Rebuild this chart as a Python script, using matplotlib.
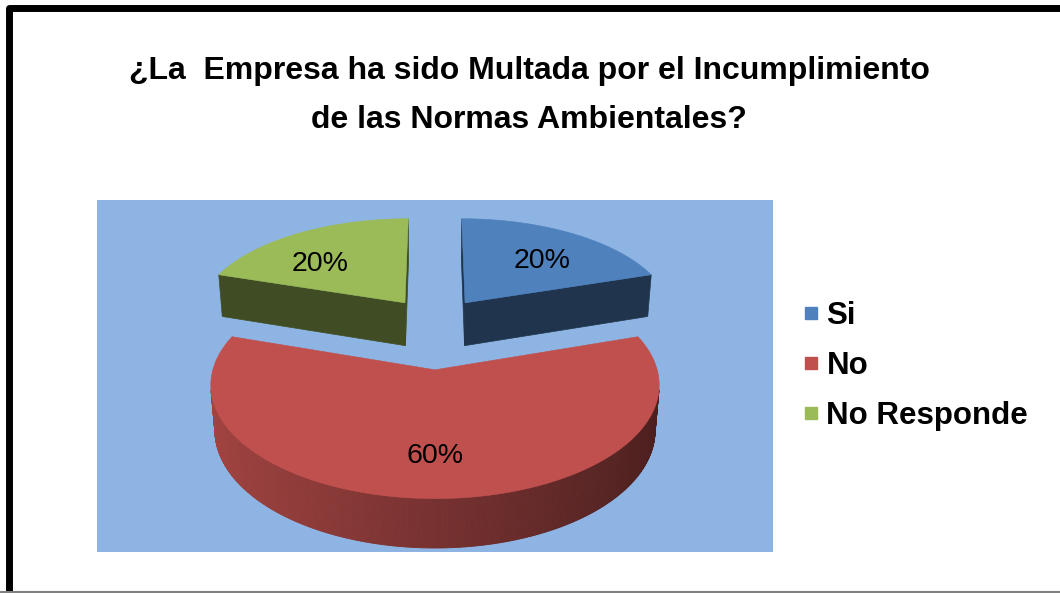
import numpy as np
import matplotlib
matplotlib.use("Agg")
import matplotlib.pyplot as plt
from matplotlib.patches import Polygon
from matplotlib.lines import Line2D
from matplotlib.colors import to_rgb

# ---------------- data ----------------
categories = ["Si", "No", "No Responde"]
values = [20, 60, 20]
colors = ["#4F81BD", "#C0504D", "#9BBB59"]
explode = [0.25, 0.45, 0.25]
title_lines = ["¿La  Empresa ha sido Multada por el Incumplimiento",
               "de las Normas Ambientales?"]

# ---------------- style / geometry ----------------
W, H, DPI = 1060, 593, 100
FONT = "Liberation Sans"
ELEV = np.radians(30.0)
FOCAL = 7.0
THICK = 0.24
SN, CS = np.sin(ELEV), np.cos(ELEV)
CAM = np.array([0.0, -FOCAL * CS, FOCAL * SN])
LABEL_R = [0.62, 0.70, 0.62]
LABEL_DA = [-5.0, 0.0, 10.0]
SCALE = 206.0


def project(x, y, z):
    yv = y * SN + z * CS
    d = y * CS - z * SN
    k = FOCAL / (FOCAL + d)
    return x * k, yv * k


def shade(c, f):
    r, g, b = to_rgb(c)
    return (r * f, g * f, b * f)


fig = plt.figure(figsize=(W / DPI, H / DPI), dpi=DPI)
fig.patch.set_facecolor("white")

ax = fig.add_axes([97 / W, 1 - 552 / H, 676 / W, 352 / H])
ax.set_facecolor("#8EB4E3")
ax.set_xlim(-338 / SCALE, 338 / SCALE)
ax.set_ylim(-186 / SCALE, 166 / SCALE)
ax.set_xticks([])
ax.set_yticks([])
for sp in ax.spines.values():
    sp.set_visible(False)

total = float(sum(values))
slices = []
start = 90.0
for i, v in enumerate(values):
    span = v / total * 360.0
    t_hi = start
    t_lo = start - span
    start = t_lo
    mid = np.radians((t_lo + t_hi) / 2)
    ox, oy = explode[i] * np.cos(mid), explode[i] * np.sin(mid)
    slices.append(dict(i=i, lo=np.radians(t_lo), hi=np.radians(t_hi),
                       mid=mid, ox=ox, oy=oy, span=span))

# far slices first
order = sorted(slices, key=lambda s: -s["oy"])


def visible(n, p):
    return np.dot(n, CAM - p) > 0


for s in order:
    i = s["i"]
    col = colors[i]
    ox, oy = s["ox"], s["oy"]
    n = max(int(s["span"] * 2), 24)
    ts = np.linspace(s["lo"], s["hi"], n)

    # radial faces
    for t, sign in ((s["lo"], 1), (s["hi"], -1)):
        nrm = np.array([sign * np.sin(t), -sign * np.cos(t), 0.0])
        p = np.array([ox + 0.5 * np.cos(t), oy + 0.5 * np.sin(t), THICK / 2])
        if visible(nrm, p):
            pts = [project(ox, oy, 0), project(ox, oy, THICK),
                   project(ox + np.cos(t), oy + np.sin(t), THICK),
                   project(ox + np.cos(t), oy + np.sin(t), 0)]
            fc = shade(col, 0.41)
            ax.add_patch(Polygon(pts, closed=True, facecolor=fc,
                                 edgecolor=fc, linewidth=0.5))

    # curved side
    for j in range(n - 1):
        ta, tb = ts[j], ts[j + 1]
        tm = 0.5 * (ta + tb)
        nrm = np.array([np.cos(tm), np.sin(tm), 0.0])
        p = np.array([ox + np.cos(tm), oy + np.sin(tm), THICK / 2])
        if not visible(nrm, p):
            continue
        pts = [project(ox + np.cos(ta), oy + np.sin(ta), 0),
               project(ox + np.cos(tb), oy + np.sin(tb), 0),
               project(ox + np.cos(tb), oy + np.sin(tb), THICK),
               project(ox + np.cos(ta), oy + np.sin(ta), THICK)]
        fc = shade(col, 0.62 - 0.23 * np.cos(tm))
        ax.add_patch(Polygon(pts, closed=True, facecolor=fc,
                             edgecolor=fc, linewidth=0.6))

    # top face
    pts = [project(ox, oy, THICK)] + [project(ox + np.cos(t), oy + np.sin(t), THICK) for t in ts]
    ax.add_patch(Polygon(pts, closed=True, facecolor=col, edgecolor=col,
                         linewidth=0.4))

    # data label
    la = s["mid"] + np.radians(LABEL_DA[i])
    lx, ly = project(ox + LABEL_R[i] * np.cos(la), oy + LABEL_R[i] * np.sin(la), THICK)
    ax.text(lx, ly, f"{values[i] / total * 100:.0f}%", ha="center", va="center",
            fontsize=20.5, family=FONT, color="black")

# title
fig.text(529 / W, 1 - 79 / H, title_lines[0], ha="center", va="baseline",
         fontsize=23, fontweight="bold", family=FONT)
fig.text(529 / W, 1 - 128 / H, title_lines[1], ha="center", va="baseline",
         fontsize=23, fontweight="bold", family=FONT)

# legend
handles = [Line2D([], [], marker="s", linestyle="none", markersize=9,
                  markerfacecolor=c, markeredgecolor=c) for c in colors]
fig.legend(handles, categories, loc="center left",
           bbox_to_anchor=(803 / W, 1 - 366 / H), frameon=False,
           prop=dict(family=FONT, weight="bold", size=22.5),
           handlelength=0.5, handletextpad=0.25, labelspacing=0.64,
           borderpad=0, borderaxespad=0)

# outer frame (black left/top, grey bottom)
fig.add_artist(Line2D([8.5 / W, 8.5 / W, 1.02], [-0.05, 1 - 7.5 / H, 1 - 7.5 / H],
                      transform=fig.transFigure, color="black", linewidth=5.0,
                      solid_joinstyle="round"))
fig.add_artist(Line2D([0, 1], [1.5 / H, 1.5 / H], transform=fig.transFigure,
                      color="#808080", linewidth=1.5))

fig.savefig("out.png", dpi=DPI)
